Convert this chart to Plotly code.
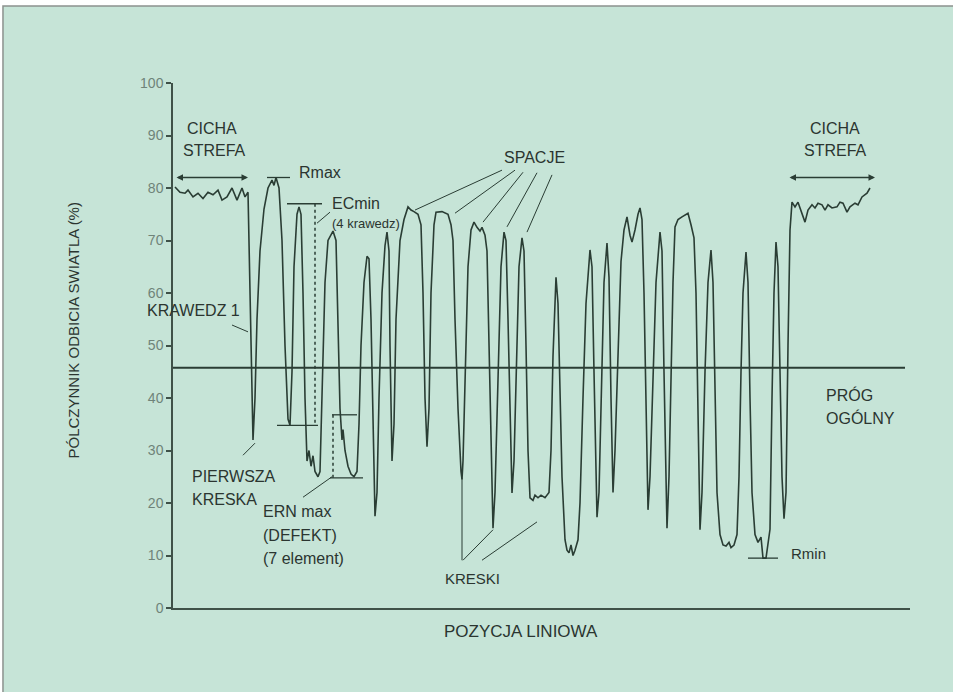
import plotly.graph_objects as go

# ---------------- data ----------------
# scan position (arbitrary units along the scan line) and reflectance (%)
quiet_left_pos = [2, 7, 12, 15, 20, 25, 30, 35, 40, 45, 49, 54, 59, 64, 69, 72, 75]
quiet_left_val = [80.2, 79.2, 79.0, 79.6, 78.3, 79.0, 78.0, 79.2, 78.7, 79.6, 77.7, 78.3, 80.0, 77.7, 80.0, 78.3, 79.2]

symbol_pos = [76, 78, 80, 82, 84, 87, 91, 95, 99, 101, 103, 106, 109, 112, 115, 117, 119, 121, 124, 126,
              128, 130, 132, 134, 136, 138, 140, 142, 145, 147, 149, 152, 155, 160, 163, 165, 167, 169, 170, 172,
              175, 178, 181, 184, 186, 188, 191, 194, 196, 198, 200, 202, 204, 206, 209, 212, 214, 216, 217, 219,
              221, 223, 227, 231, 235, 238, 241, 245, 248, 250, 252, 254, 256, 258, 261, 263, 269, 275, 278, 280,
              282, 285, 288, 289, 290, 292, 295, 298, 301, 304, 307, 309, 312, 314, 316, 318, 320, 322, 325, 328,
              331, 333, 335, 337, 339, 341, 343, 346, 349, 351, 353, 355, 357, 360, 362, 365, 368, 372, 376, 378,
              380, 383, 385, 387, 389, 392, 394, 396, 398, 400, 402, 405, 407, 410, 413, 417, 419, 421, 423, 424,
              426, 428, 431, 434, 436, 438, 440, 442, 445, 448, 451, 454, 457, 459, 462, 465, 467, 469, 471, 473,
              475, 477, 480, 483, 487, 489, 491, 493, 494, 496, 498, 500, 502, 505, 509, 513, 515, 518, 521, 523,
              525, 527, 529, 532, 535, 538, 540, 542, 544, 547, 550, 553, 556, 558, 561, 564, 566, 568, 570, 573,
              575, 577, 579, 582, 585, 588, 590, 593, 595, 597, 599, 601, 603, 605, 607, 609, 611, 613, 615, 617, 619]
symbol_val = [70, 45, 32, 40, 55, 68, 76, 80, 81.5, 80.5, 82, 80, 70, 50, 36, 34.8, 45, 65, 75, 76.4,
              75, 60, 40, 28, 30, 27, 29, 26, 25, 26, 40, 62, 70, 71.8, 70, 55, 38, 32, 34, 30,
              27, 25.5, 25, 26, 35, 50, 62, 67, 66.5, 55, 35, 17.5, 22, 40, 60, 69, 71.6, 68, 50, 28,
              35, 55, 70, 74, 76.4, 75.8, 75.5, 75, 73, 60, 40, 30.7, 38, 60, 73, 75.4, 75.5, 75, 73, 70,
              55, 38, 26, 24.5, 28, 45, 65, 72, 73.5, 72.5, 71.8, 72.5, 71, 68, 50, 28, 15.2, 22, 45, 65,
              71.6, 70, 55, 35, 21.9, 28, 45, 65, 70.5, 68, 50, 30, 21, 20.5, 21.5, 21, 21.5, 21, 22, 30,
              48, 63, 58, 40, 25, 13, 11, 10.5, 12, 10, 11, 13, 20, 40, 58, 68.2, 65, 45, 25, 17.3,
              22, 40, 62, 69.5, 63, 40, 22, 30, 50, 66, 72, 74.5, 71, 69.7, 72, 75, 76.2, 74, 60, 35,
              18.7, 25, 45, 62, 71.6, 68, 45, 25, 15.2, 25, 45, 62, 72.6, 74, 74.5, 75, 75.2, 73, 70.5, 60,
              35, 14.9, 22, 45, 62, 68.2, 62, 40, 22, 14, 12, 11.8, 12.5, 11.5, 12, 14, 25, 45, 60, 67.8,
              62, 40, 22, 14, 12.5, 13.5, 9.5, 9.5, 12.5, 15, 40, 60, 69.7, 65, 45, 25, 17, 22, 50, 72, 77.3]

quiet_right_pos = [622, 625, 629, 632, 635, 639, 642, 645, 649, 652, 655, 659, 664, 667, 670, 674, 677, 682, 685, 689, 694, 697]
quiet_right_val = [76.4, 77.3, 74.9, 73.5, 75.8, 76.8, 76.2, 77.1, 76.8, 75.8, 76.8, 76.2, 76.4, 77.3, 77.1, 75.4, 76.4, 77.1, 76.8, 78.3, 79.0, 80.0]

y_ticks = [0, 10, 20, 30, 40, 50, 60, 70, 80, 90, 100]
y_title = "PÓLCZYNNIK ODBICIA SWIATLA (%)"
x_title = "POZYCJA LINIOWA"

# measured levels
r_max = max(symbol_val)
r_min = min(symbol_val)
threshold = (r_max + r_min) / 2
ecmin_top = 77.0
ecmin_bottom = 34.8
ern_top = 36.8
ern_bottom = 24.8
quiet_arrow_level = 82.0
axis_end = 737

# ---------------- figure ----------------
pos = quiet_left_pos + symbol_pos + quiet_right_pos
val = quiet_left_val + symbol_val + quiet_right_val

INK = "#2a3d34"
TXT = "#2b3530"
FONT = "Liberation Sans, Arial, sans-serif"

fig = go.Figure()
fig.add_trace(go.Scatter(x=pos, y=val, mode="lines",
                         line=dict(color=INK, width=1.6), hoverinfo="skip", showlegend=False))

shapes = []
# background panel
shapes.append(dict(type="rect", xref="paper", yref="paper", x0=-0.2307, x1=1.12, y0=-0.2, y1=1.1467,
                   fillcolor="#c6e4d7", line=dict(color="#8c918e", width=1.5), layer="below"))


def seg(x0, y0, x1, y1, dash="solid", width=1.3):
    shapes.append(dict(type="line", xref="x", yref="y", x0=x0, y0=y0, x1=x1, y1=y1,
                       line=dict(color=INK, width=width, dash=dash)))


# threshold
seg(0, threshold, 732, threshold, width=2)
# Rmax / Rmin
seg(94, r_max, 117, r_max)
seg(575, r_min, 605, r_min)
# ECmin
seg(114, ecmin_top, 149, ecmin_top)
seg(104, ecmin_bottom, 145, ecmin_bottom)
seg(142, ecmin_top, 142, ecmin_bottom, dash="dot", width=1.5)
seg(144, 73.3, 157, 75.4, width=1)
# ERN box
seg(159, ern_top, 184, ern_top)
seg(157, ern_bottom, 190, ern_bottom)
seg(160, ern_top, 160, ern_bottom, dash="dot", width=1.5)
seg(130, 21.1, 159, 25.0, width=1)
# pointers
seg(59, 53.9, 75, 52.6, width=1)          # krawedz 1
seg(70, 29.1, 82, 31.4, width=1)          # pierwsza kreska
seg(289, 9.1, 289, 24.8, width=1)         # kreski
seg(290, 9.1, 320, 14.9, width=1)
seg(309, 9.1, 364, 16.4, width=1)
for (a, b, c, d) in [(329, 83.4, 242, 75.8), (342, 83.4, 282, 75.2), (350, 83.0, 310, 73.5),
                     (364, 82.9, 334, 72.6), (379, 82.5, 354, 71.6)]:
    seg(a, b, c, d, width=1)              # spacje

annotations = []


def txt(x, y, s, anchor="center", size=16):
    annotations.append(dict(x=x, y=y, xref="x", yref="y", text=s, showarrow=False,
                            xanchor=anchor, yanchor="middle",
                            font=dict(family=FONT, size=size, color=TXT)))


txt(39, 91.4, "CICHA")
txt(41, 87.2, "STREFA")
txt(662, 91.4, "CICHA")
txt(662, 87.2, "STREFA")
txt(124, 83.0, "Rmax", "left")
txt(157, 77.1, "ECmin", "left")
txt(157, 73.3, "(4 krawedz)", "left", 13)
txt(20, 56.6, "KRAWEDZ 1")
txt(17, 25.0, "PIERWSZA", "left")
txt(17, 20.6, "KRESKA", "left")
txt(88, 18.3, "ERN max", "left")
txt(88, 13.9, "(DEFEKT)", "left")
txt(88, 9.5, "(7 element)", "left")
txt(299, 5.7, "KRESKI", size=15)
txt(361, 85.9, "SPACJE")
txt(651, 40.6, "PRÓG", "left")
txt(651, 36.2, "OGÓLNY", "left")
txt(616, 10.3, "Rmin", "left", 15)

# quiet zone arrows
for (a, b) in [(2, 75), (615, 702)]:
    annotations.append(dict(x=b, y=quiet_arrow_level, ax=a, ay=quiet_arrow_level, xref="x", yref="y",
                            axref="x", ayref="y", text="", showarrow=True, arrowhead=2,
                            arrowside="end+start", arrowsize=1, arrowwidth=1.3, arrowcolor=INK))

# axis titles
annotations.append(dict(x=-0.1493, y=0.5295, xref="paper", yref="paper", text=y_title, textangle=-90,
                        showarrow=False, font=dict(family=FONT, size=15, color=TXT)))
annotations.append(dict(x=0.472, y=-0.0667, xref="paper", yref="paper", text=x_title,
                        showarrow=False, font=dict(family=FONT, size=17, color=TXT)))

fig.update_layout(
    width=953, height=692,
    margin=dict(l=173, r=43, t=83, b=84),
    paper_bgcolor="white", plot_bgcolor="rgba(0,0,0,0)",
    shapes=shapes, annotations=annotations,
    xaxis=dict(range=[0, axis_end], showgrid=False, zeroline=False, showticklabels=False,
               ticks="", showline=True, linecolor="#3f5148", linewidth=2, fixedrange=True),
    yaxis=dict(range=[0, 100], tickvals=y_ticks, showgrid=False, zeroline=False,
               showline=True, linecolor="#3f5148", linewidth=1.5, ticks="outside", ticklen=5,
               tickwidth=1.5, tickcolor="#3f5148",
               tickfont=dict(family=FONT, size=14, color="#6f8379"), fixedrange=True),
)

fig.write_html("out.html", config={"displayModeBar": False},
               post_script="document.body.style.margin='0';document.body.style.overflow='hidden';")
